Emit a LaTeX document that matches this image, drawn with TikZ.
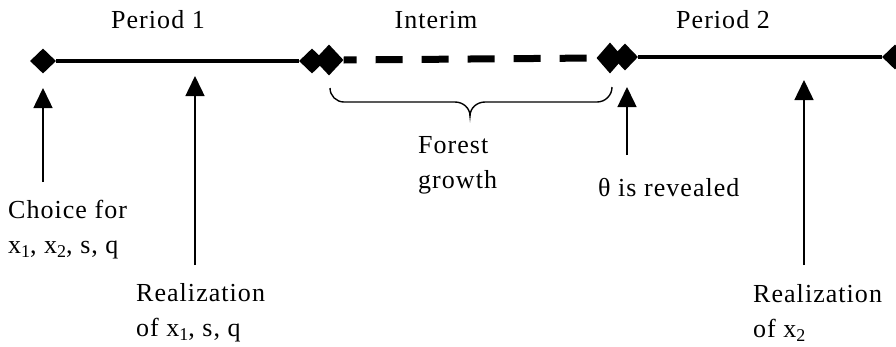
\documentclass[tikz,border=0pt]{standalone}
\usepackage{fontspec}
\setmainfont[LetterSpace=4]{Liberation Serif}
\usetikzlibrary{arrows.meta,shapes.geometric}
\newcommand\lsub[1]{\raisebox{-0.3ex}{\fontsize{18}{18}\selectfont #1}}
\tikzset{
  dia/.style={diamond,fill=black,inner sep=0pt,minimum width=26pt,minimum height=25pt},
  mainline/.style={line width=4pt},
  dashline/.style={line width=7pt,dash pattern=on 27pt off 19pt,dash phase=14pt},
  uparrow/.style={line width=1.5pt,-{Triangle[width=19pt,length=20pt]}},
  lbl/.style={font=\fontsize{26}{35}\selectfont,inner sep=0pt,align=left},
  brace/.style={line width=1.4pt}
}
\begin{document}
\begin{tikzpicture}[x=1pt,y=-1pt]
\useasboundingbox (0,0) rectangle (896,346);
% diamonds
\node[dia] (d1) at (43,61) {};
\node[dia] (d2a) at (312,61) {};
\node[dia,minimum height=31pt,minimum width=29pt] (d2b) at (329,60) {};
\node[dia,minimum height=31pt,minimum width=27pt] (d3a) at (610,58) {};
\node[dia,minimum height=27pt] (d3b) at (625,57) {};
\node[dia] (d4) at (895,57) {};
% lines
\draw[mainline] (d1) -- (d2a);
\draw[dashline] (d2b.east) -- (d3a.west);
\draw[mainline] (d3b) -- (d4);
% brace
\coordinate (bl) at (330,88);
\coordinate (br) at (612,87);
\coordinate (bt) at (470,116);
\draw[brace] (bl) to[out=-90,in=180] (344,102) -- (455,102) to[out=0,in=90] (bt)
  to[out=90,in=180] (485,102) -- (597,102) to[out=0,in=-90] (br);
% arrows
\coordinate (a1s) at (43,182); \coordinate (a1e) at (43,88);
\coordinate (a2s) at (195,265); \coordinate (a2e) at (195,76);
\coordinate (a3s) at (627,155); \coordinate (a3e) at (627,87);
\coordinate (a4s) at (804,265); \coordinate (a4e) at (804,80);
\draw[uparrow] (a1s) -- (a1e);
\draw[uparrow] (a2s) -- (a2e);
\draw[uparrow] (a3s) -- (a3e);
\draw[uparrow] (a4s) -- (a4e);
% labels
\node[lbl] (p1) at (158,20) {Period 1};
\node[lbl] (im) at (436,20) {Interim};
\node[lbl] (p2) at (723,20) {Period 2};
\node[lbl,anchor=west] (fg) at (418,165) {Forest\\growth};
\node[lbl,anchor=west] (th) at (598,188) {θ is revealed};
\node[lbl,anchor=west] (ch) at (8,230) {Choice for\\x\lsub{1}, x\lsub{2}, s, q};
\node[lbl,anchor=west] (r1) at (136,313) {Realization\\of x\lsub{1}, s, q};
\node[lbl,anchor=west] (r2) at (753,313) {Realization\\of x\lsub{2}};
\end{tikzpicture}
\end{document}
